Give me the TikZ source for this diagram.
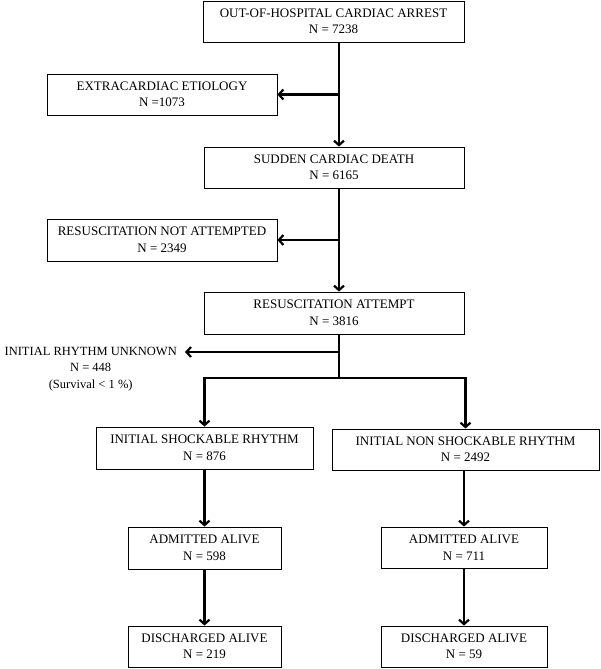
\documentclass[tikz,border=0pt]{standalone}
\usepackage{fontspec}
\setmainfont{Liberation Serif}
\usetikzlibrary{arrows.meta}
\tikzset{
	box/.style={draw,line width=0.8pt,align=center,inner sep=0pt,font=\fontsize{13}{16.5}\selectfont},
	flow/.style={line width=2.2pt,-{Straight Barb[length=4.5pt,width=10pt]}},
	link/.style={line width=2.2pt}
}

\begin{document}
\begin{tikzpicture}[x=1pt,y=-1pt]
	\useasboundingbox (0,0) rectangle (600,669);
	%
	%  MAIN COLUMN
	%
	\node[box,minimum width=261pt,minimum height=41pt] (arrest) at (333.5,21.5) {OUT-OF-HOSPITAL CARDIAC ARREST\\N = 7238};
	\node[box,minimum width=230pt,minimum height=41pt] (etiol) at (162,94.5) {EXTRACARDIAC ETIOLOGY\\N =1073};
	\node[box,minimum width=260pt,minimum height=41pt] (scd) at (334,167.5) {SUDDEN CARDIAC DEATH\\N = 6165};
	\node[box,minimum width=230pt,minimum height=42pt] (notatt) at (162,240) {RESUSCITATION NOT ATTEMPTED\\N = 2349};
	\node[box,minimum width=260pt,minimum height=42pt] (attempt) at (334,313) {RESUSCITATION ATTEMPT\\N = 3816};
	\node[align=center,anchor=east,inner sep=0pt,font=\fontsize{12.5}{16.5}\selectfont] (unk) at (177,369) {INITIAL RHYTHM UNKNOWN\\N = 448\\(Survival < 1 \%)};
	%
	%  BRANCHES
	%
	\node[box,minimum width=217pt,minimum height=42pt] (shock) at (204.5,448) {INITIAL SHOCKABLE RHYTHM\\N = 876};
	\node[box,minimum width=267pt,minimum height=41pt] (nonshock) at (465.5,449.5) {INITIAL NON SHOCKABLE RHYTHM\\N = 2492};
	\node[box,minimum width=153pt,minimum height=42pt] (adm1) at (204.5,548) {ADMITTED ALIVE\\N = 598};
	\node[box,minimum width=166pt,minimum height=41pt] (adm2) at (464,547.5) {ADMITTED ALIVE\\N = 711};
	\node[box,minimum width=153pt,minimum height=41pt] (dis1) at (204.5,646.5) {DISCHARGED ALIVE\\N = 219};
	\node[box,minimum width=166pt,minimum height=41pt] (dis2) at (464,646.5) {DISCHARGED ALIVE\\N = 59};
	%
	%  JUNCTIONS
	%
	\coordinate (j1) at (339,94.5);
	\coordinate (j2) at (339,240);
	\coordinate (j3) at (339,352);
	\coordinate (j4) at (339,378);
	%
	%  CONNECTORS
	%
	\draw[flow] (arrest.south -| j1) -- (scd.north -| j1);
	\draw[flow] (j1) -- (etiol.east);
	\draw[flow] (scd.south -| j2) -- (attempt.north -| j2);
	\draw[flow] (j2) -- (notatt.east);
	\draw[link] (attempt.south -| j3) -- (j4);
	\draw[flow] (j3) -- ([xshift=8pt]j3 -| unk.east);
	\draw[flow] (j4) -| (shock.north);
	\draw[flow] (j4) -| (nonshock.north);
	\path[flow]
	(shock) edge (adm1)
	(nonshock.south -| adm2) edge (adm2)
	(adm1) edge (dis1)
	(adm2) edge (dis2);
\end{tikzpicture}
\end{document}
